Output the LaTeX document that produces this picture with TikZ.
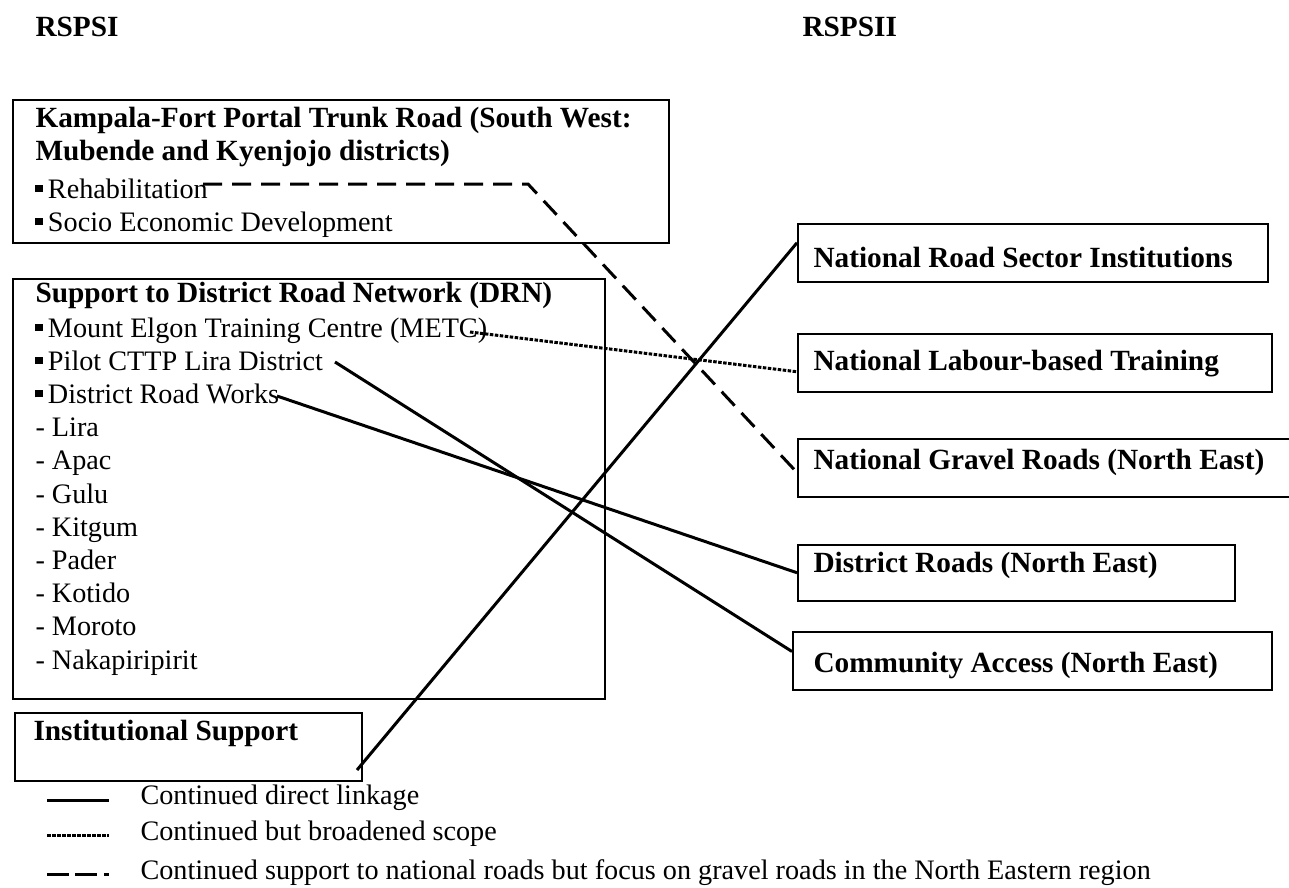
\documentclass[tikz,border=0pt]{standalone}
\usepackage{fontspec}
\setmainfont{Liberation Serif}
\newcommand{\sqbul}{\rule[2.4pt]{3pt}{3pt}\hspace{2pt}}
\tikzset{
  box/.style={draw, line width=0.6pt, anchor=north west, inner sep=0pt},
  reg/.style={anchor=base west, inner sep=0pt, font=\fontsize{11.28}{13}\selectfont},
  hd/.style={anchor=base west, inner sep=0pt, font=\fontsize{11.72}{13}\selectfont\bfseries},
  link/.style={line width=1.2pt},
  broad/.style={line width=1.2pt, dash pattern=on 1.4pt off 0.6pt},
  grav/.style={line width=1.2pt, dash pattern=on 7.6pt off 4pt},
  gravkey/.style={line width=1.2pt, dash pattern=on 8.8pt off 2.4pt on 8.8pt off 2.8pt on 2pt off 20pt},
}
\begin{document}
\begin{tikzpicture}[x=0.4pt,y=-0.4pt]
\useasboundingbox (0,0) rectangle (1289,888);
% titles
\node[hd] (t1) at (35,36) {RSPSI};
\node[hd] (t2) at (802,36) {RSPSII};
% left boxes
\node[box, minimum width=262.4pt, minimum height=57.2pt] (b1) at (12,99) {};
\node[hd] (k1) at (35,127) {Kampala-Fort Portal Trunk Road (South West:};
\node[hd] (k2) at (35,160) {Mubende and Kyenjojo districts)};
\node[reg] (rehab) at (35,198) {\sqbul Rehabilitation};
\node[reg] (socio) at (35,231) {\sqbul Socio Economic Development};
\node[box, minimum width=236.8pt, minimum height=168pt] (b2) at (12,278) {};
\node[hd] (drn) at (35,302) {Support to District Road Network (DRN)};
\node[reg] (metc) at (35,337) {\sqbul Mount Elgon Training Centre (METC)};
\node[reg] (pilot) at (35,370.2) {\sqbul Pilot CTTP Lira District};
\node[reg] (drw) at (35,403.4) {\sqbul District Road Works};
\node[reg] (d1) at (35,436.6) {- Lira};
\node[reg] (d2) at (35,469.8) {- Apac};
\node[reg] (d3) at (35,503) {- Gulu};
\node[reg] (d4) at (35,536.2) {- Kitgum};
\node[reg] (d5) at (35,569.4) {- Pader};
\node[reg] (d6) at (35,602.6) {- Kotido};
\node[reg] (d7) at (35,635.8) {- Moroto};
\node[reg] (d8) at (35,669) {- Nakapiripirit};
\node[box, minimum width=138.8pt, minimum height=27.2pt] (inst) at (14,712) {};
\node[hd] (instt) at (33,740) {Institutional Support};
% right boxes
\node[box, minimum width=188pt, minimum height=23.2pt] (nrsi) at (797,223) {};
\node[hd] (nrsit) at (813,267) {National Road Sector Institutions};
\node[box, minimum width=189.6pt, minimum height=23.2pt] (nlt) at (797,333) {};
\node[hd] (nltt) at (813,370) {National Labour-based Training};
\node[box, minimum width=201.2pt, minimum height=23.2pt] (ngr) at (797,438) {};
\node[hd] (ngrt) at (813,469) {National Gravel Roads (North East)};
\node[box, minimum width=174.8pt, minimum height=22.4pt] (dr) at (797,544) {};
\node[hd] (drt) at (813,572) {District Roads (North East)};
\node[box, minimum width=191.6pt, minimum height=23.2pt] (ca) at (792,631) {};
\node[hd] (cat) at (813,672) {Community Access (North East)};
% connector start points
\coordinate (rehabEnd) at (203,184);
\coordinate (bend) at (528,184);
\coordinate (metcEnd) at (470,332);
\coordinate (pilotEnd) at (335,362);
\coordinate (drwEnd) at (277,396);
\coordinate (instEnd) at (357,770);
% connectors
\draw[grav] (rehabEnd) -- (bend) -- ([yshift=-1.9pt]ngr.west);
\draw[broad] (metcEnd) -- ([yshift=-3.6pt]nlt.west);
\draw[link] (pilotEnd) -- ([yshift=3.7pt]ca.west);
\draw[link] (drwEnd) -- (dr.west);
\draw[link] (instEnd) -- ([yshift=4pt]nrsi.west);
% legend
\coordinate (l1a) at (47,800); \coordinate (l1b) at (109,800);
\coordinate (l2a) at (47,835); \coordinate (l2b) at (109,835);
\coordinate (l3a) at (47,874); \coordinate (l3b) at (109,874);
\draw[link] (l1a) -- (l1b);
\draw[broad] (l2a) -- (l2b);
\draw[gravkey] (l3a) -- (l3b);
\node[reg] (lg1) at (140,804) {Continued direct linkage};
\node[reg] (lg2) at (140,840) {Continued but broadened scope};
\node[reg] (lg3) at (140,879) {Continued support to national roads but focus on gravel roads in the North Eastern region};
\end{tikzpicture}
\end{document}
